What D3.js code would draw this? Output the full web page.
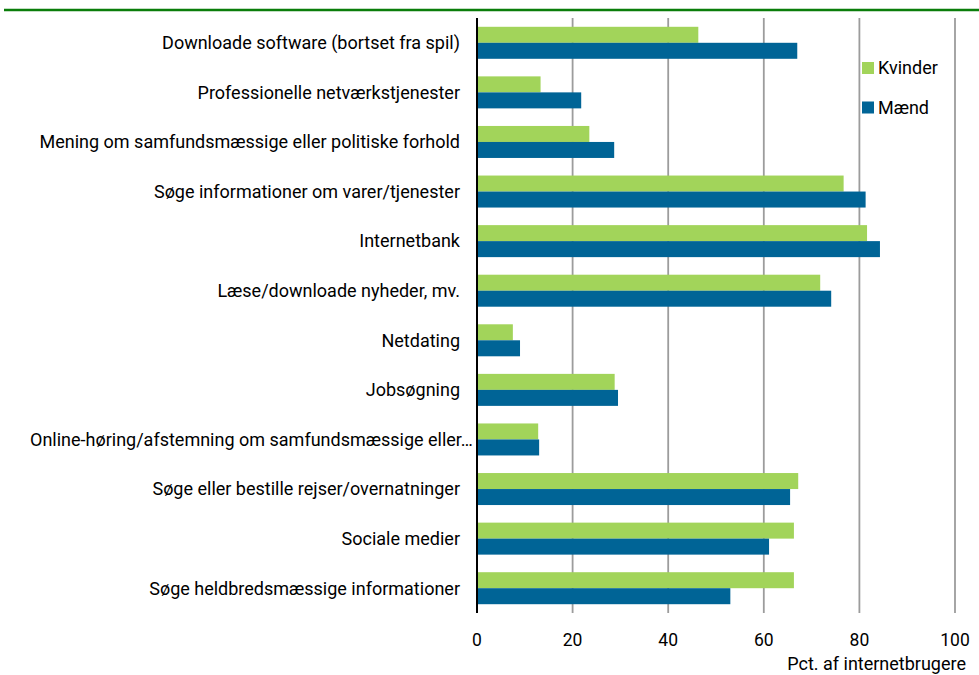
<!DOCTYPE html>
<html>
<head>
<meta charset="utf-8">
<script src="https://cdn.jsdelivr.net/npm/d3@7"></script>
<style>
  html, body { margin: 0; padding: 0; background: #fff; }
  svg { display: block; font-family: Roboto, "Liberation Sans", sans-serif; }
</style>
</head>
<body>
<svg id="chart" width="979" height="675"></svg>
<script>
// ---- data ----
const categories = [
  "Downloade software (bortset fra spil)",
  "Professionelle netværkstjenester",
  "Mening om samfundsmæssige eller politiske forhold",
  "Søge informationer om varer/tjenester",
  "Internetbank",
  "Læse/downloade nyheder, mv.",
  "Netdating",
  "Jobsøgning",
  "Online-høring/afstemning om samfundsmæssige eller…",
  "Søge eller bestille rejser/overnatninger",
  "Sociale medier",
  "Søge heldbredsmæssige informationer"
];
const seriesNames = ["Kvinder", "Mænd"];
const kvinder = [46.3, 13.3, 23.5, 76.7, 81.6, 71.8, 7.5, 28.8, 12.8, 67.2, 66.3, 66.3];
const maend   = [67.0, 21.8, 28.7, 81.3, 84.3, 74.1, 9.0, 29.5, 13.0, 65.5, 61.1, 53.0];
const xTicks = [0, 20, 40, 60, 80, 100];
const xTitle = "Pct. af internetbrugere";

// ---- layout / style ----
const colors = { "Kvinder": "#a2d45a", "Mænd": "#006496" };
const plot = { left: 477, right: 955, top: 18, bottom: 613 };
const labelFont = 18, tickFont = 17.5, titleFont = 18;

const svg = d3.select("#chart");

// top rule
svg.append("line")
  .attr("x1", 4).attr("x2", 979).attr("y1", 10).attr("y2", 10)
  .attr("stroke", "#0a7d0a").attr("stroke-width", 2.5);

const x = d3.scaleLinear().domain([0, 100]).range([plot.left, plot.right]);
const y = d3.scaleBand().domain(categories).range([plot.top, plot.bottom])
  .paddingInner(0.3546).paddingOuter(0.1773);
const ySub = d3.scaleBand().domain(seriesNames).range([0, y.bandwidth()]);

// gridlines
svg.append("g").selectAll("line")
  .data(xTicks.filter(d => d > 0))
  .join("line")
  .attr("x1", d => x(d)).attr("x2", d => x(d))
  .attr("y1", plot.top).attr("y2", plot.bottom)
  .attr("stroke", "#9c9c9c").attr("stroke-width", 1.8);

// bars
const rows = categories.map((c, i) => ({ cat: c, values: [
  { s: "Kvinder", v: kvinder[i] }, { s: "Mænd", v: maend[i] } ] }));

const g = svg.append("g").selectAll("g")
  .data(rows).join("g")
  .attr("transform", d => `translate(0,${y(d.cat)})`);

g.selectAll("rect")
  .data(d => d.values)
  .join("rect")
  .attr("x", x(0))
  .attr("y", d => ySub(d.s))
  .attr("width", d => x(d.v) - x(0))
  .attr("height", ySub.bandwidth())
  .attr("fill", d => colors[d.s]);

// y axis line
svg.append("line")
  .attr("x1", x(0)).attr("x2", x(0))
  .attr("y1", plot.top).attr("y2", plot.bottom)
  .attr("stroke", "#000").attr("stroke-width", 2);

// category labels
const labelRight = x(0) - 17;
const labelLeftLimit = 30;
svg.append("g").selectAll("text")
  .data(categories)
  .join("text")
  .attr("y", d => y(d) + y.bandwidth() / 2)
  .attr("dy", "0.35em")
  .attr("font-size", labelFont)
  .attr("fill", "#000")
  .text(d => d)
  .each(function() {
    const t = d3.select(this);
    const w = this.getComputedTextLength();
    if (labelRight - w < labelLeftLimit) {
      t.attr("x", labelLeftLimit).attr("text-anchor", "start");
    } else {
      t.attr("x", labelRight).attr("text-anchor", "end");
    }
  });

// x tick labels
svg.append("g").selectAll("text")
  .data(xTicks)
  .join("text")
  .attr("x", d => x(d))
  .attr("y", 646)
  .attr("text-anchor", "middle")
  .attr("font-size", tickFont)
  .attr("fill", "#000")
  .text(d => d);

// x axis title
svg.append("text")
  .attr("x", 966).attr("y", 670)
  .attr("text-anchor", "end")
  .attr("font-size", titleFont)
  .attr("fill", "#000")
  .text(xTitle);

// legend
const legend = svg.append("g").selectAll("g")
  .data(seriesNames)
  .join("g")
  .attr("transform", (d, i) => `translate(862,${62 + i * 39.5})`);
legend.append("rect")
  .attr("width", 12).attr("height", 12)
  .attr("fill", d => colors[d]);
legend.append("text")
  .attr("x", 16).attr("y", 12)
  .attr("font-size", labelFont)
  .attr("fill", "#000")
  .text(d => d);
</script>
</body>
</html>
